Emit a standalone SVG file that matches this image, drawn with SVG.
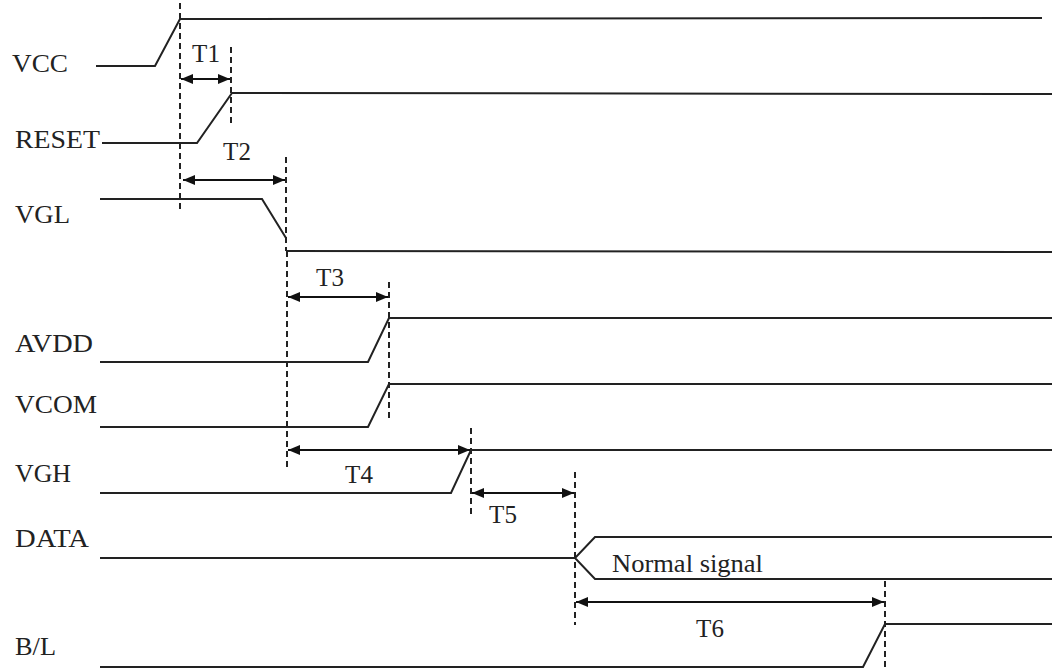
<svg xmlns="http://www.w3.org/2000/svg" width="1052" height="670" viewBox="0 0 1052 670">
<defs>
<style>
.sig{fill:none;stroke:#222;stroke-width:2}
.dash{fill:none;stroke:#222;stroke-width:2;stroke-dasharray:6 4}
.dim{fill:none;stroke:#111;stroke-width:2;marker-start:url(#ah);marker-end:url(#ah)}
.lbl{font-family:"Liberation Serif","Times New Roman",serif;font-size:25px;fill:#222}
.tl{font-family:"Liberation Serif","Times New Roman",serif;font-size:25px;fill:#222;text-anchor:middle}
</style>
<marker id="ah" viewBox="0 0 12 10" refX="12" refY="5" markerWidth="12" markerHeight="10" markerUnits="userSpaceOnUse" orient="auto-start-reverse">
<path d="M0,0 L12,5 L0,10 Z" fill="#111"/>
</marker>
</defs>
<rect width="1052" height="670" fill="#fff"/>
<g id="labels">
<text class="lbl" x="12" y="72" textLength="56" lengthAdjust="spacingAndGlyphs">VCC</text>
<text class="lbl" x="15" y="148" textLength="85" lengthAdjust="spacingAndGlyphs">RESET</text>
<text class="lbl" x="15" y="223" textLength="55" lengthAdjust="spacingAndGlyphs">VGL</text>
<text class="lbl" x="15" y="352" textLength="78" lengthAdjust="spacingAndGlyphs">AVDD</text>
<text class="lbl" x="15" y="413" textLength="82" lengthAdjust="spacingAndGlyphs">VCOM</text>
<text class="lbl" x="15" y="482" textLength="56" lengthAdjust="spacingAndGlyphs">VGH</text>
<text class="lbl" x="15" y="547" textLength="74" lengthAdjust="spacingAndGlyphs">DATA</text>
<text class="lbl" x="15" y="655" textLength="41" lengthAdjust="spacingAndGlyphs">B/L</text>
</g>
<g id="signals">
<polyline id="vcc" class="sig" points="96,66 155,66 180,19 1042,18"/>
<polyline id="reset" class="sig" points="102,143 197,143 232,93 1052,94"/>
<polyline id="vgl" class="sig" points="100,199 262,199 286,238"/>
<line class="sig" x1="287" y1="251" x2="1052" y2="252"/>
<polyline id="avdd" class="sig" points="100,362 368,362 389,318 1052,318"/>
<polyline id="vcom" class="sig" points="100,427 368,427 389,384 1052,384"/>
<polyline id="vgh" class="sig" points="100,493 451,493 471,450 1052,450"/>
<polyline id="data" class="sig" points="100,558 575,558"/>
<polyline class="sig" points="1052,537 595,537 575,558 595,579 1052,579"/>
<text class="lbl" x="612" y="572" textLength="151" lengthAdjust="spacingAndGlyphs">Normal signal</text>
<polyline id="bl" class="sig" points="100,667 863,667 885,624 1052,624"/>
</g>
<g id="connectors">
<line class="dash" x1="180" y1="3" x2="180" y2="212"/>
<line class="dash" x1="231" y1="47" x2="231" y2="127"/>
<line class="dash" x1="286" y1="157" x2="286" y2="251"/>
<line class="dash" x1="287" y1="251" x2="287" y2="467"/>
<line class="dash" x1="389" y1="282" x2="389" y2="420"/>
<line class="dash" x1="471" y1="428" x2="471" y2="515"/>
<line class="dash" x1="575" y1="472" x2="575" y2="625"/>
<line class="dash" x1="885" y1="581" x2="885" y2="670"/>
<line class="dim" x1="181" y1="79" x2="230" y2="79"/>
<line class="dim" x1="183" y1="180" x2="285" y2="180"/>
<line class="dim" x1="288" y1="297" x2="388" y2="297"/>
<line class="dim" x1="288" y1="450" x2="470" y2="450"/>
<line class="dim" x1="472" y1="493" x2="574" y2="493"/>
<line class="dim" x1="576" y1="602" x2="884" y2="602"/>
<text class="tl" x="206" y="62">T1</text>
<text class="tl" x="237" y="160">T2</text>
<text class="tl" x="330" y="286">T3</text>
<text class="tl" x="359" y="483">T4</text>
<text class="tl" x="503" y="523">T5</text>
<text class="tl" x="710" y="637">T6</text>
</g>
</svg>
